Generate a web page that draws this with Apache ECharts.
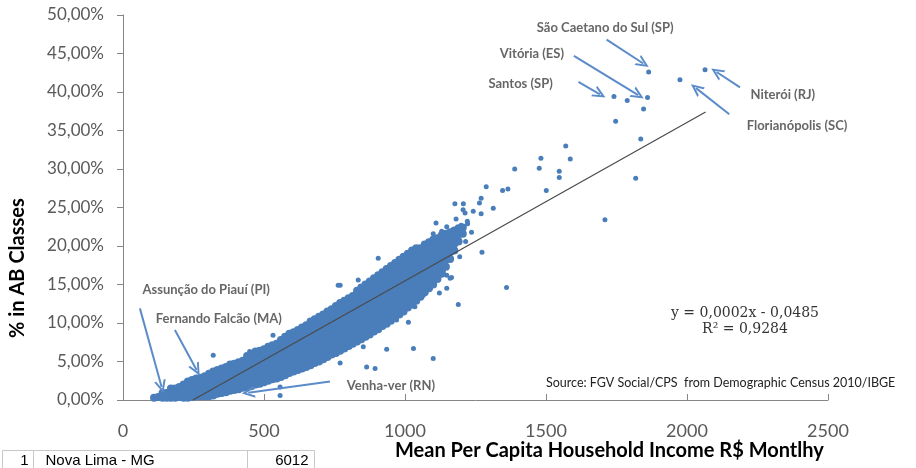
<!DOCTYPE html>
<html>
<head>
<meta charset="utf-8">
<script src="https://cdn.jsdelivr.net/npm/echarts@6/dist/echarts.min.js"></script>
<style>
  html, body { margin: 0; padding: 0; background: #fff; }
  #chart { width: 916px; height: 468px; }
</style>
</head>
<body>
<div id="chart"></div>
<script>
// income (R$) columns of the dense cloud, with the % AB values read in each column
var cloudCols = [
  [110, [0.3]],
  [125, [0.4]],
  [140, [0.3, 0.9]],
  [155, [0.3, 0.9]],
  [170, [0.3, 1.0, 1.5]],
  [185, [0.3, 0.9, 1.5]],
  [200, [0.4, 1.0, 1.7]],
  [215, [0.3, 0.9, 1.6, 2.0]],
  [230, [0.3, 1.1, 1.9, 2.4]],
  [245, [0.4, 1.2, 2.0, 2.6]],
  [260, [0.5, 1.4, 2.3, 2.8]],
  [275, [0.5, 1.3, 2.1, 2.9]],
  [290, [0.5, 1.3, 2.2, 3.1]],
  [305, [0.5, 1.2, 2.0, 2.8, 3.4]],
  [320, [0.6, 1.5, 2.4, 3.3, 3.7]],
  [335, [0.8, 1.6, 2.4, 3.2, 3.9]],
  [350, [0.9, 1.8, 2.7, 3.6, 4.1]],
  [365, [1.0, 1.8, 2.6, 3.4, 4.3]],
  [380, [1.2, 2.1, 3.0, 3.9, 4.6]],
  [395, [1.3, 2.0, 2.9, 3.8, 4.7]],
  [410, [1.4, 2.2, 3.1, 4.0, 4.9]],
  [425, [1.6, 2.4, 3.3, 4.2, 5.1]],
  [440, [1.7, 2.6, 3.5, 4.4, 5.3, 5.7]],
  [455, [1.8, 2.7, 3.6, 4.5, 5.4, 6.0]],
  [470, [2.0, 2.9, 3.8, 4.7, 5.6, 6.3]],
  [485, [2.1, 3.0, 3.9, 4.8, 5.7, 6.4]],
  [500, [2.3, 3.2, 4.1, 5.0, 5.9, 6.6]],
  [515, [2.5, 3.3, 4.2, 5.1, 6.0, 6.9]],
  [530, [2.7, 3.5, 4.4, 5.3, 6.2, 7.1]],
  [545, [2.8, 3.7, 4.6, 5.5, 6.4, 7.3]],
  [560, [3.0, 3.9, 4.8, 5.7, 6.6, 7.5, 7.8]],
  [575, [3.2, 4.1, 5.0, 5.9, 6.8, 7.7, 8.2]],
  [590, [3.5, 4.3, 5.2, 6.1, 7.0, 7.9, 8.6]],
  [605, [3.7, 4.5, 5.4, 6.3, 7.2, 8.1, 8.8]],
  [620, [3.9, 4.7, 5.6, 6.5, 7.4, 8.3, 9.1]],
  [635, [4.1, 4.9, 5.8, 6.7, 7.6, 8.5, 9.4]],
  [650, [4.3, 5.2, 6.1, 7.0, 7.9, 8.8, 9.7]],
  [665, [4.5, 5.4, 6.3, 7.2, 8.1, 9.0, 9.9, 10.2]],
  [680, [4.8, 5.6, 6.5, 7.4, 8.3, 9.2, 10.1, 10.5]],
  [695, [5.0, 5.8, 6.7, 7.6, 8.5, 9.4, 10.3, 10.8]],
  [710, [5.3, 6.1, 7.0, 7.9, 8.8, 9.7, 10.6, 11.1]],
  [725, [5.6, 6.4, 7.3, 8.2, 9.1, 10.0, 10.9, 11.5]],
  [740, [5.9, 6.6, 7.5, 8.4, 9.3, 10.2, 11.1, 11.8]],
  [755, [6.1, 6.9, 7.8, 8.7, 9.6, 10.5, 11.4, 12.2]],
  [770, [6.4, 7.2, 8.1, 9.0, 9.9, 10.8, 11.7, 12.6]],
  [785, [6.7, 7.5, 8.4, 9.3, 10.2, 11.1, 12.0, 12.9]],
  [800, [7.0, 7.8, 8.7, 9.6, 10.5, 11.4, 12.3, 13.2]],
  [815, [7.3, 8.1, 9.0, 9.9, 10.8, 11.7, 12.6, 13.5]],
  [830, [7.6, 8.4, 9.3, 10.2, 11.1, 12.0, 12.9, 13.8, 14.2]],
  [845, [7.9, 8.7, 9.6, 10.5, 11.4, 12.3, 13.2, 14.1, 14.6]],
  [860, [8.2, 9.0, 9.9, 10.8, 11.7, 12.6, 13.5, 14.4, 15.0]],
  [875, [8.5, 9.3, 10.2, 11.1, 12.0, 12.9, 13.8, 14.7, 15.4]],
  [890, [8.9, 9.6, 10.5, 11.4, 12.3, 13.2, 14.1, 15.0, 15.8]],
  [905, [9.2, 10.0, 10.9, 11.8, 12.7, 13.6, 14.5, 15.4, 16.2]],
  [920, [9.6, 10.4, 11.3, 12.2, 13.1, 14.0, 14.9, 15.8, 16.6]],
  [935, [9.9, 10.7, 11.6, 12.5, 13.4, 14.3, 15.2, 16.1, 17.0]],
  [950, [10.3, 11.1, 12.0, 12.9, 13.8, 14.7, 15.6, 16.5, 17.4]],
  [965, [10.7, 11.5, 12.4, 13.3, 14.2, 15.1, 16.0, 16.9, 17.8]],
  [980, [11.1, 12.0, 12.9, 13.8, 14.7, 15.6, 16.5, 17.4, 18.2]],
  [995, [11.5, 12.4, 13.3, 14.2, 15.1, 16.0, 16.9, 17.8, 18.6]],
  [1010, [12.0, 12.8, 13.7, 14.6, 15.5, 16.4, 17.3, 18.2, 19.0]],
  [1025, [12.4, 13.3, 14.2, 15.1, 16.0, 16.9, 17.8, 18.7, 19.4]],
  [1040, [12.9, 13.8, 14.7, 15.6, 16.5, 17.4, 18.3, 19.2, 19.7]],
  [1055, [13.4, 14.3, 15.2, 16.1, 17.0, 17.9, 18.8, 19.7]],
  [1070, [14.0, 14.8, 15.7, 16.6, 17.5, 18.4, 19.3, 20.2]],
  [1085, [14.5, 15.3, 16.2, 17.1, 18.0, 18.9, 19.8, 20.5]],
  [1100, [15.0, 15.9, 16.8, 17.7, 18.6, 19.5, 20.4, 20.8]],
  [1115, [15.7, 16.6, 17.5, 18.4, 19.3, 20.2, 21.0]],
  [1130, [16.4, 17.3, 18.2, 19.1, 20.0, 20.9, 21.4]],
  [1145, [17.3, 18.2, 19.1, 20.0, 20.9, 21.6]],
  [1160, [18.3, 19.2, 20.1, 21.0, 21.8]],
  [1175, [19.4, 20.3, 21.2, 22.0]],
  [1190, [20.6, 21.5, 22.3]],
  [1205, [21.6, 22.4]]
];

// scattered municipalities outside the dense band [income, % AB]
var outliers = [
  [1864, 42.6], [2064, 42.9], [1975, 41.6], [1741, 39.4], [1788, 38.9], [1860, 39.3],
  [1846, 37.8], [1747, 36.2], [1836, 33.9], [1570, 33.0], [1482, 31.4], [1586, 31.3],
  [1389, 30.0], [1476, 30.1], [1547, 29.7], [1547, 28.9], [1818, 28.8], [1288, 27.7],
  [1346, 27.2], [1365, 27.4], [1501, 27.2], [1270, 26.2], [1313, 24.9], [1270, 24.2],
  [1709, 23.4], [1273, 19.2], [1360, 14.6],
  [1264, 25.6], [1207, 25.5], [1177, 25.5], [1242, 24.5], [1213, 24.3], [1206, 24.7],
  [1221, 23.2], [1199, 22.7], [1181, 23.5], [1148, 22.5], [1130, 21.9], [1100, 21.6],
  [1110, 23.0], [1148, 19.7], [1174, 19.8], [1118, 18.0], [1136, 16.7], [1148, 16.2],
  [1160, 15.8], [1083, 14.8], [1148, 14.5], [1065, 13.6], [1035, 12.1], [1189, 12.4],
  [1041, 16.0], [1053, 16.2], [1018, 16.7], [1006, 15.2], [970, 14.7], [982, 13.4],
  [994, 12.6], [982, 11.3], [947, 10.8], [923, 10.6], [911, 9.5], [876, 9.7],
  [905, 18.4], [834, 15.6], [1165, 15.9], [1089, 14.5], [970, 10.4], [988, 11.3],
  [935, 10.2], [805, 6.9], [852, 6.9], [935, 6.6], [1030, 6.7], [770, 4.8],
  [864, 4.3], [894, 4.1], [1100, 5.4], [763, 14.9], [770, 14.9],
  [1222, 22.9], [1236, 21.8], [1215, 20.6], [1194, 18.6], [1122, 13.9], [1012, 10.1],
  [112, 0.4], [557, 1.7], [557, 0.6], [320, 5.8], [449, 6.3], [532, 8.4]
];

// trend line end points as drawn
var trend = [[248, 0], [2066, 37.4]];

var xTicks = [0, 2500, 500];
var yTicks = [0, 50, 5];

// labelled cities: [text, label x, label y, arrow from x, from y, to x, to y]
var cities = [
  ['São Caetano do Sul (SP)', 1710, 48.4, 1715, 46.8, 1845, 43.7],
  ['Vitória (ES)', 1450, 45.0, 1599, 44.7, 1827, 39.6],
  ['Santos (SP)', 1410, 41.1, 1615, 41.3, 1691, 39.7],
  ['Niterói (RJ)', 2340, 39.6, 2188, 40.6, 2105, 42.6],
  ['Florianópolis (SC)', 2390, 35.6, 2150, 37.1, 2032, 40.5],
  ['Assunção do Piauí (PI)', 295, 14.3, 60, 11.9, 137, 1.7],
  ['Fernando Falcão (MA)', 340, 10.5, 184, 9.1, 261, 3.9],
  ['Venha-ver (RN)', 950, 1.9, 734, 2.4, 444, 0.95]
];

var cloud = [];
cloudCols.forEach(function (c) {
  c[1].forEach(function (v) { cloud.push([c[0], v]); });
});

var blue = '#4a7ebb';
var arrowBlue = '#5b8cc9';
var chevron = 'path://M0,10 L5,0 L10,10 L8.2,10 L5,3.6 L1.8,10 Z';

var arrowLines = cities.map(function (c) {
  return [
    { coord: [c[3], c[4]], symbol: 'none' },
    { coord: [c[5], c[6]], symbol: chevron, symbolSize: [12, 13] }
  ];
});

var cityLabels = cities.map(function (c) {
  return {
    value: [c[1], c[2]],
    label: { show: true, formatter: c[0] }
  };
});

var myChart = echarts.init(document.getElementById('chart'));
var option = {
  animation: false,
  grid: { left: 123, right: 88, top: 15, bottom: 68, containLabel: false },
  xAxis: {
    type: 'value',
    min: xTicks[0], max: xTicks[1], interval: xTicks[2],
    splitLine: { show: false },
    axisLine: { lineStyle: { color: '#868686', width: 1 } },
    axisTick: { show: true, length: 6, inside: true, lineStyle: { color: '#868686' } },
    axisLabel: {
      color: '#595959', fontFamily: 'Lato', fontSize: 18, margin: 22,
      formatter: function (v) { return String(v); }
    }
  },
  yAxis: {
    type: 'value',
    min: yTicks[0], max: yTicks[1], interval: yTicks[2],
    splitLine: { show: false },
    axisLine: { show: true, lineStyle: { color: '#868686', width: 1 } },
    axisTick: { show: true, length: 6, lineStyle: { color: '#868686' } },
    axisLabel: {
      color: '#595959', fontFamily: 'Lato', fontSize: 17, margin: 19,
      formatter: function (v) { return v.toFixed(2).replace('.', ',') + '%'; }
    }
  },
  graphic: [
    {
      type: 'text', left: 395, top: 441,
      style: {
        text: 'Mean Per Capita Household Income R$ Montlhy',
        font: 'bold 20px Lato', fill: '#000'
      }
    },
    {
      type: 'text', x: 8, y: 338, rotation: Math.PI / 2,
      style: {
        text: '% in AB Classes', font: 'bold 20px Lato', fill: '#000'
      }
    },
    {
      type: 'text', left: 546, top: 376,
      style: {
        text: 'Source: FGV Social/CPS  from Demographic Census 2010/IBGE',
        font: '12.5px Lato', fill: '#222'
      }
    },
    {
      type: 'text', x: 745, y: 306,
      style: {
        text: 'y = 0,0002x - 0,0485', font: '14px "DejaVu Serif"', fill: '#333',
        textAlign: 'center'
      }
    },
    {
      type: 'text', x: 745, y: 322,
      style: {
        text: 'R² = 0,9284', font: '14px "DejaVu Serif"', fill: '#333',
        textAlign: 'center'
      }
    },
    // small spreadsheet cell at the bottom left
    {
      type: 'group', left: 2, top: 448,
      children: [
        { type: 'rect', shape: { x: 0, y: 0, width: 312, height: 22 },
          style: { fill: '#fff', stroke: '#c8c8c8', lineWidth: 1 } },
        { type: 'line', shape: { x1: 31, y1: 0, x2: 31, y2: 22 }, style: { stroke: '#c8c8c8' } },
        { type: 'line', shape: { x1: 245, y1: 0, x2: 245, y2: 22 }, style: { stroke: '#c8c8c8' } },
        { type: 'text', x: 26, y: 3, style: { text: '1', font: '15px "Liberation Sans"', fill: '#000', textAlign: 'right' } },
        { type: 'text', x: 43, y: 3, style: { text: 'Nova Lima - MG', font: '15px "Liberation Sans"', fill: '#000' } },
        { type: 'text', x: 306, y: 3, style: { text: '6012', font: '15px "Liberation Sans"', fill: '#000', textAlign: 'right' } }
      ]
    }
  ],
  series: [
    {
      name: 'cloud',
      type: 'scatter',
      data: cloud,
      symbolSize: 8,
      itemStyle: { color: blue, opacity: 1 },
      silent: true
    },
    {
      name: 'municipalities',
      type: 'scatter',
      data: outliers,
      symbolSize: 5,
      itemStyle: { color: blue, opacity: 1 },
      markLine: {
        silent: true,
        animation: false,
        label: { show: false },
        lineStyle: { color: arrowBlue, width: 2, type: 'solid' },
        data: arrowLines
      }
    },
    {
      name: 'trend',
      type: 'line',
      data: trend,
      symbol: 'none',
      lineStyle: { color: '#4a4a4a', width: 1.2 },
      z: 5
    },
    {
      name: 'labels',
      type: 'scatter',
      data: cityLabels,
      symbolSize: 0,
      label: {
        position: 'inside',
        color: '#404040',
        fontFamily: 'Lato',
        fontWeight: 'bold',
        fontSize: 13
      },
      z: 6
    }
  ]
};
myChart.setOption(option);
</script>
</body>
</html>
